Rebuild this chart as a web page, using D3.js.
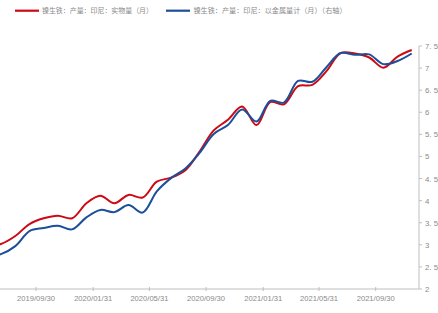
<!DOCTYPE html>
<html><head><meta charset="utf-8">
<script src="https://cdn.jsdelivr.net/npm/d3@7/dist/d3.min.js"></script>
<style>
html,body{margin:0;padding:0;background:#fff;}
svg{display:block;}
</style></head>
<body>
<script>
// Monthly data (2019-05 .. 2021-12)
const months = ["2019-05","2019-06","2019-07","2019-08","2019-09","2019-10","2019-11","2019-12",
  "2020-01","2020-02","2020-03","2020-04","2020-05","2020-06","2020-07","2020-08","2020-09","2020-10","2020-11","2020-12",
  "2021-01","2021-02","2021-03","2021-04","2021-05","2021-06","2021-07","2021-08","2021-09","2021-10","2021-11","2021-12"];
// 镍生铁：产量：印尼：实物量（月） — plotted on the (hidden) left axis
const actualQty = [2.95,2.97,3.02,3.20,3.47,3.60,3.66,3.60,
  3.94,4.11,3.94,4.13,4.07,4.43,4.52,4.69,5.11,5.59,5.83,6.13,
  5.71,6.23,6.18,6.59,6.62,6.93,7.34,7.33,7.24,7.01,7.26,7.41];
// 镍生铁：产量：印尼：以金属量计（月）（右轴）
const metalQty = [2.74,2.75,2.79,2.97,3.31,3.38,3.43,3.35,
  3.62,3.79,3.74,3.90,3.73,4.21,4.51,4.73,5.08,5.51,5.71,6.06,
  5.79,6.26,6.22,6.71,6.69,7.02,7.34,7.30,7.31,7.09,7.16,7.33];
const tickLabels = ["2019/05/31","2019/09/30","2020/01/31","2020/05/31","2020/09/30","2021/01/31","2021/05/31","2021/09/30"];
const rightTicks = [2,2.5,3,3.5,4,4.5,5,5.5,6,6.5,7,7.5];
const seriesNames = ["镍生铁：产量：印尼：实物量（月）","镍生铁：产量：印尼：以金属量计（月）（右轴）"];
const colors = ["#cc0a14","#1c4f9a"];

const W = 438, H = 313;
const svg = d3.select("body").append("svg").attr("width", W).attr("height", H);

const parseEnd = d3.timeParse("%Y/%m/%d");
const midMonth = s => {
  const [y, m] = s.split("-").map(Number);
  const a = new Date(y, m - 1, 1), b = new Date(y, m, 1);
  return new Date((a.getTime() + b.getTime()) / 2);
};

const x = d3.scaleTime()
  .domain([parseEnd("2019/09/30"), parseEnd("2021/09/30")])
  .range([36, 375.7]);
const yR = d3.scaleLinear().domain([2, 7.5]).range([289, 46]);
const yL = d3.scaleLinear().domain([2, 7.5]).range([289, 46]); // hidden left axis

const axisColor = "#bfbfbf", textColor = "#8a8a8a";

// X axis
const xAxis = svg.append("g").attr("transform", "translate(0,289)");
xAxis.append("line").attr("x1", -40).attr("x2", 419).attr("y1", 0).attr("y2", 0)
  .attr("stroke", axisColor).attr("stroke-width", 1);
tickLabels.forEach(t => {
  const d = parseEnd(t);
  const xx = x(d);
  xAxis.append("line").attr("x1", xx).attr("x2", xx).attr("y1", -2).attr("y2", 2)
    .attr("stroke", axisColor);
  xAxis.append("text").attr("x", xx).attr("y", 12).attr("text-anchor", "middle")
    .attr("font-family", "Liberation Sans, Arial, sans-serif").attr("font-size", 7.6)
    .attr("fill", textColor).text(t);
});

// Right axis
const rAxis = svg.append("g").attr("transform", "translate(419,0)");
rAxis.append("line").attr("x1", 0).attr("x2", 0).attr("y1", yR(7.5)).attr("y2", yR(2))
  .attr("stroke", axisColor);
rightTicks.forEach(v => {
  rAxis.append("line").attr("x1", 0).attr("x2", 3).attr("y1", yR(v)).attr("y2", yR(v))
    .attr("stroke", axisColor);
  rAxis.append("text").attr("x", 6).attr("y", yR(v) + 3)
    .attr("font-family", "Liberation Sans, Arial, sans-serif").attr("font-size", 7.8)
    .attr("fill", textColor).text(v % 1 ? v.toFixed(1).replace(".", ". ") : v);
});

// Lines
const curve = d3.curveCatmullRom.alpha(0.5);
const lineL = d3.line().x((d, i) => x(midMonth(months[i]))).y(d => yL(d)).curve(curve);
const lineR = d3.line().x((d, i) => x(midMonth(months[i]))).y(d => yR(d)).curve(curve);
svg.append("path").attr("d", lineL(actualQty)).attr("fill", "none")
  .attr("stroke", colors[0]).attr("stroke-width", 2);
svg.append("path").attr("d", lineR(metalQty)).attr("fill", "none")
  .attr("stroke", colors[1]).attr("stroke-width", 2);

// Legend
const lg = svg.append("g");
const legendPos = [{lx: 15, tx: 42, w: 111}, {lx: 166, tx: 193.5, w: 153}];
seriesNames.forEach((n, i) => {
  const p = legendPos[i];
  lg.append("line").attr("x1", p.lx).attr("x2", p.lx + 24).attr("y1", 10.7).attr("y2", 10.7)
    .attr("stroke", colors[i]).attr("stroke-width", 2.2);
  lg.append("text").attr("x", p.tx).attr("y", 13.3)
    .attr("font-family", "Noto Sans CJK SC, sans-serif").attr("font-size", 7.2)
    .attr("fill", textColor).attr("textLength", p.w).attr("lengthAdjust", "spacingAndGlyphs")
    .text(n);
});
</script>
</body></html>
